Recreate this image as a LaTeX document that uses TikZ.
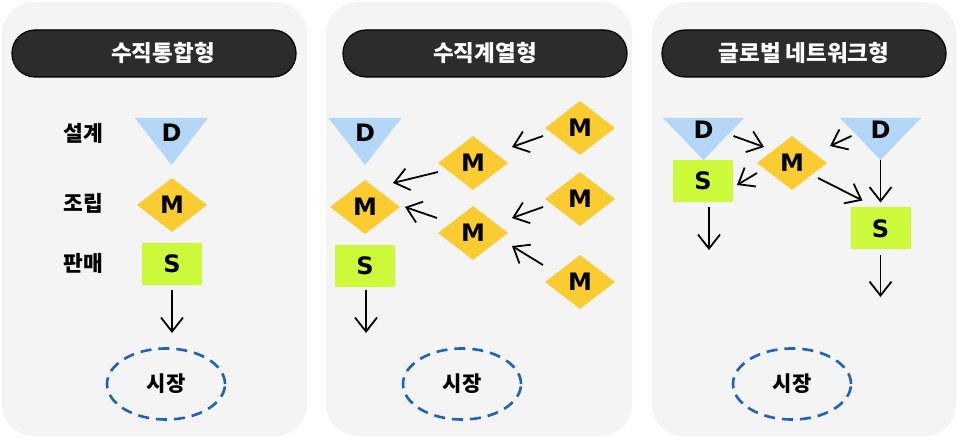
\documentclass[tikz,border=0pt]{standalone}
\usepackage{fontspec}
\usepackage{tikz}
\usetikzlibrary{calc}
\usetikzlibrary{arrows.meta}
\usetikzlibrary{shapes.geometric}
\newfontfamily\kofont{Noto Sans CJK KR}
\newfontfamily\latfont{DejaVu Sans}
\definecolor{cloud}{RGB}{244, 244, 244}
\definecolor{coal}{RGB}{44, 44, 44}
\definecolor{skyblue}{RGB}{180, 214, 247}
\definecolor{mango}{RGB}{250, 204, 50}
\definecolor{lime}{RGB}{204, 250, 58}
\definecolor{royal}{RGB}{32, 96, 190}

\tikzset{
  panel/.style   = {fill=cloud, rounded corners=32pt},
  titlebar/.style= {fill=coal, draw=black, line width=1.2pt, rounded corners=23pt,
                    minimum width=284pt, minimum height=47pt, text=white,
                    font=\kofont\bfseries\fontsize{22.5}{26}\selectfont},
  design/.style  = {inner sep=0pt, minimum width=73pt, minimum height=47pt,
                    text height=5pt, text depth=5pt,
                    font=\latfont\bfseries\fontsize{24}{28}\selectfont,
                    path picture={\fill[skyblue] (path picture bounding box.north west)
                      -- (path picture bounding box.north east)
                      -- (path picture bounding box.south) -- cycle;}},
  make/.style    = {diamond, aspect=1.3, fill=mango, inner sep=0pt,
                    minimum width=70pt, minimum height=54pt,
                    font=\latfont\bfseries\fontsize{24}{28}\selectfont},
  sell/.style    = {fill=lime, inner sep=0pt, minimum width=60pt, minimum height=42pt,
                    font=\latfont\bfseries\fontsize{24}{28}\selectfont},
  role/.style    = {font=\kofont\bfseries\fontsize{21.5}{24}\selectfont},
  market/.style  = {ellipse, draw=royal, line width=2.6pt, dash pattern=on 11pt off 7pt,
                    minimum width=118pt, minimum height=71pt,
                    font=\kofont\bfseries\fontsize{21}{24}\selectfont},
  flow/.style    = {-{Straight Barb[length=14pt,width=22pt]}, line width=1.8pt}
}

\begin{document}
\begin{tikzpicture}[x=1pt, y=-1pt]
  \useasboundingbox (0,0) rectangle (958,438);
  \fill[white] (0,0) rectangle (958,438);

  \fill[panel] (  2,2) rectangle (307,436);
  \fill[panel] (326,2) rectangle (632,436);
  \fill[panel] (652,2) rectangle (956,436);

  \node[titlebar] (t1) at (154,53.5) {\hspace{18pt}수직통합형};
  \node[titlebar] (t2) at (485,53.5) {수직계열형\hspace{16pt}};
  \node[titlebar] (t3) at (804,53.5) {글로벌 네트워크형\hspace{14pt}};

  % vertically integrated
  \node[role]   (r1)  at ( 83,133)   {설계};
  \node[role]   (r2)  at ( 83,203)   {조립};
  \node[role]   (r3)  at ( 83,263)   {판매};
  \node[design] (d1)  at (171.5,141.5) {D};
  \node[make]   (m1)  at (172,205)   {M};
  \node[sell]   (s1)  at (172,264)   {S};
  \coordinate   (o1)  at (172,333);
  \node[market] (mk1) at (166,384)   {시장};
  \draw[flow] ([yshift=-26pt]s1.center) -- (o1);

  % vertical keiretsu
  \node[design] (d2)  at (365,141.5) {D};
  \node[make]   (m21) at (365,207)   {M};
  \node[sell]   (s2)  at (365,266)   {S};
  \node[make]   (m22) at (473,163)   {M};
  \node[make]   (m23) at (473,233)   {M};
  \node[make]   (m24) at (580,128)   {M};
  \node[make]   (m25) at (580,199)   {M};
  \node[make]   (m26) at (580,282)   {M};
  \coordinate   (o2)  at (366,333);
  \node[market] (mk2) at (462,384)   {시장};
  \draw[flow] ([shift={(1,24)}]s2.center)     -- (o2);
  \draw[flow] ([shift={(-35,9)}]m22.center)   -- ([shift={(28,-24)}]m21.center);
  \draw[flow] ([shift={(-36,-15)}]m23.center) -- ([shift={(40,0)}]m21.center);
  \draw[flow] ([shift={(-37,8)}]m24.center)   -- ([shift={(39,-16)}]m22.center);
  \draw[flow] ([shift={(-37,8)}]m25.center)   -- ([shift={(39,-15)}]m23.center);
  \draw[flow] ([shift={(-37,-17)}]m26.center) -- ([shift={(39,13)}]m23.center);

  % global network
  \node[design, minimum width=81pt, minimum height=42pt] (d31) at (703.5,139) {D};
  \node[design, minimum width=81pt, minimum height=42pt] (d32) at (880.5,139) {D};
  \node[sell]   (s31) at (703,181)   {S};
  \node[sell]   (s32) at (880.5,228.5) {S};
  \node[make]   (m3)  at (792,163)   {M};
  \coordinate   (o31) at (709,250);
  \coordinate   (o32) at (880.5,297);
  \node[market] (mk3) at (792,384)   {시장};
  \draw[flow] ([shift={(30,-3)}]d31.center)  -- ([shift={(-28,-16)}]m3.center);
  \draw[flow] ([shift={(-29,-3)}]d32.center) -- ([shift={(38,-17)}]m3.center);
  \draw[flow] ([shift={(-35,10)}]m3.center)  -- ([shift={(34,4)}]s31.center);
  \draw[flow] ([shift={(26,15)}]m3.center)   -- ([shift={(-18,-28)}]s32.center);
  \draw[flow] ([shift={(0,21)}]d32.center)   -- ([shift={(0,-26)}]s32.center);
  \draw[flow] ([shift={(6,26)}]s31.center)   -- (o31);
  \draw[flow] ([shift={(0,26.5)}]s32.center) -- (o32);
\end{tikzpicture}
\end{document}
